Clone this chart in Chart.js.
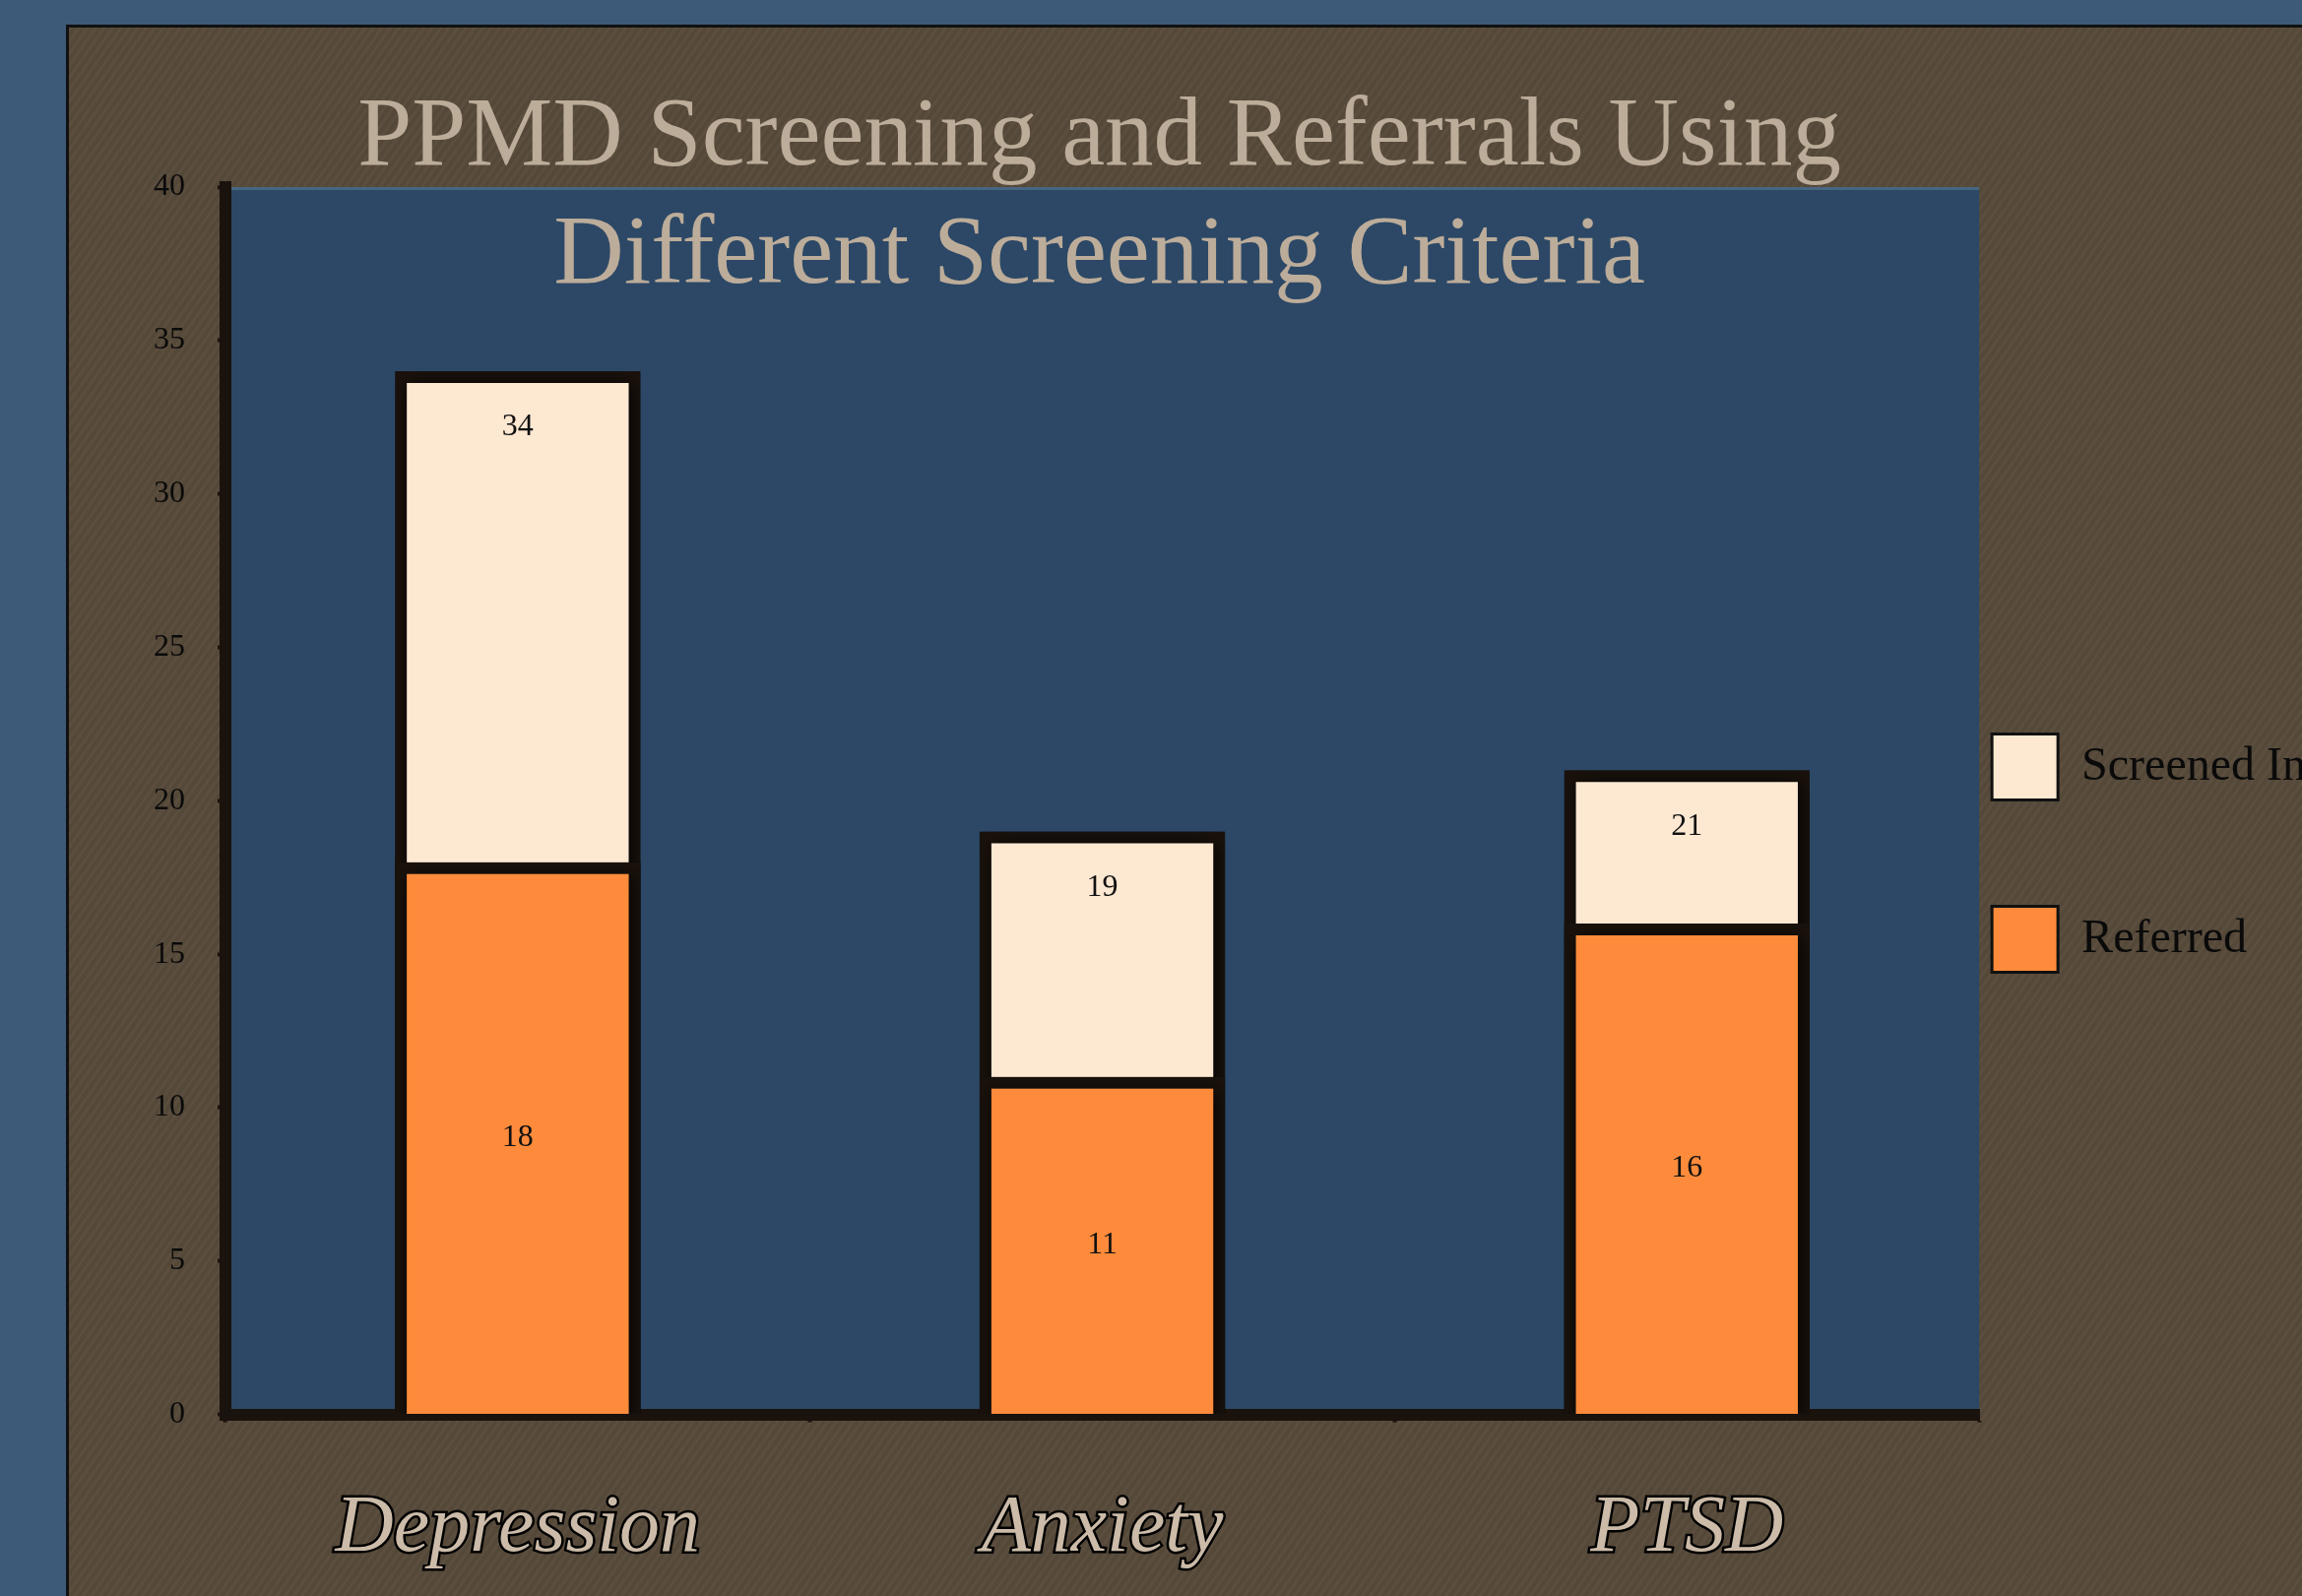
<!DOCTYPE html>
<html>
<head>
<meta charset="utf-8">
<script src="https://cdn.jsdelivr.net/npm/chart.js@4/dist/chart.umd.min.js"></script>
<style>
  html, body { margin: 0; padding: 0; width: 2338px; height: 1621px; overflow: hidden; background: #3d5a78; }
  #frame {
    position: absolute; left: 67px; top: 25px;
    width: 2377px; height: 1678px;
    border-left: 3px solid #111; border-top: 3px solid #111;
    background-color: #574a3a;
    background-image: repeating-linear-gradient(125deg, rgba(255,255,255,0.025) 0px, rgba(255,255,255,0.025) 3px, rgba(0,0,0,0.03) 3px, rgba(0,0,0,0.03) 7px);
  }
  canvas { display: block; }
</style>
</head>
<body>
<div id="frame"><canvas id="c" width="2377" height="1678"></canvas></div>
<script>
// ---- data ----
const categories = ['Depression', 'Anxiety', 'PTSD'];
const seriesNames = ['Screened In', 'Referred'];
const screenedIn = [34, 19, 21];
const referred = [18, 11, 16];
const titleLines = ['PPMD Screening and Referrals Using', 'Different Screening Criteria'];
const yMin = 0, yMax = 40, yStep = 5;

// ---- styles ----
const CREAM = '#fde8d2';
const ORANGE = '#fd8b3b';
const DARK = '#1a120c';
const PLOT_BG = '#2c4866';
const TITLE_COLOR = '#bcac9a';
const SERIF = '"Liberation Serif", "Times New Roman", serif';

const plotBg = {
  id: 'plotBg',
  beforeDraw(chart) {
    const {ctx, chartArea: a} = chart;
    ctx.save();
    ctx.fillStyle = PLOT_BG;
    ctx.fillRect(a.left, a.top, a.right - a.left, a.bottom - a.top);
    ctx.fillStyle = 'rgba(160,190,210,0.25)';
    ctx.fillRect(a.left, a.top, a.right - a.left, 3);
    ctx.restore();
  }
};

const legendPlace = {
  id: 'legendPlace',
  afterLayout(chart) {
    const lg = chart.legend;
    const pad = lg.options.labels.padding;
    const newLeft = chart.chartArea.right + 13 - pad;
    lg.left = newLeft; lg.right = newLeft + lg.width;
    lg.top -= 60; lg.bottom -= 60;
  }
};

const barShadowAndLabels = {
  id: 'barShadowAndLabels',
  beforeDatasetsDraw(chart) {
    const ctx = chart.ctx;
    ctx.save();
    ctx.shadowColor = 'rgba(0,0,0,0.9)';
    ctx.shadowBlur = 16;
    ctx.shadowOffsetX = 2;
    ctx.shadowOffsetY = 2;
  },
  afterDatasetsDraw(chart) {
    const ctx = chart.ctx;
    ctx.restore();
    ctx.save();
    ctx.font = '32px ' + SERIF;
    ctx.fillStyle = '#111';
    ctx.textAlign = 'center';
    ctx.textBaseline = 'middle';
    const mS = chart.getDatasetMeta(0);
    mS.data.forEach((el, i) => ctx.fillText(String(screenedIn[i]), el.x, el.y + 57));
    const mR = chart.getDatasetMeta(1);
    mR.data.forEach((el, i) => ctx.fillText(String(referred[i]), el.x, (el.y + el.base) / 2));
    ctx.restore();
  },
  afterDraw(chart) {
    const {ctx, chartArea: a} = chart;
    ctx.save();
    ctx.font = '99px ' + SERIF;
    ctx.fillStyle = TITLE_COLOR;
    ctx.textAlign = 'center';
    ctx.textBaseline = 'alphabetic';
    const cx = (a.left + a.right) / 2;
    ctx.fillText(titleLines[0], cx - 3, a.top - 23);
    ctx.fillText(titleLines[1], cx - 3, a.top + 97);
    ctx.restore();
  }
};

const chart = new Chart(document.getElementById('c'), {
  type: 'bar',
  data: {
    labels: categories,
    datasets: [
      { label: seriesNames[0], data: screenedIn, backgroundColor: CREAM, borderColor: DARK, borderWidth: 12, order: 2 },
      { label: seriesNames[1], data: referred, backgroundColor: ORANGE, borderColor: DARK, borderWidth: 12, order: 1 }
    ]
  },
  options: {
    responsive: false,
    animation: false,
    layout: { padding: { left: 53, top: 162, right: 0, bottom: 43 } },
    datasets: { bar: { categoryPercentage: 0.42, barPercentage: 1.0 } },
    scales: {
      x: {
        stacked: true,
        grid: { drawOnChartArea: false, drawTicks: true, tickLength: 8, tickColor: DARK, tickWidth: 4 },
        border: { display: true, color: DARK, width: 12 },
        ticks: {
          padding: 60,
          color: '#cbbba8',
          textStrokeColor: '#000',
          textStrokeWidth: 5,
          font: { family: SERIF, style: 'italic', size: 82 }
        }
      },
      y: {
        stacked: false,
        min: yMin, max: yMax,
        grid: { drawOnChartArea: false, drawTicks: true, tickLength: 8, tickColor: DARK, tickWidth: 4 },
        border: { display: true, color: DARK, width: 12 },
        ticks: {
          stepSize: yStep,
          padding: 33,
          color: '#0a0a0a',
          font: { family: SERIF, size: 32 }
        }
      }
    },
    plugins: {
      title: { display: false },
      tooltip: { enabled: false },
      legend: {
        position: 'right',
        reverse: true,
        labels: {
          boxWidth: 67,
          boxHeight: 67,
          padding: 108,
          color: '#0a0a0a',
          font: { family: SERIF, size: 48 },
          generateLabels(chart) {
            return Chart.defaults.plugins.legend.labels.generateLabels(chart).map(l => {
              l.lineWidth = 3; l.strokeStyle = '#111'; return l;
            });
          }
        }
      }
    }
  },
  plugins: [plotBg, legendPlace, barShadowAndLabels]
});
</script>
</body>
</html>
